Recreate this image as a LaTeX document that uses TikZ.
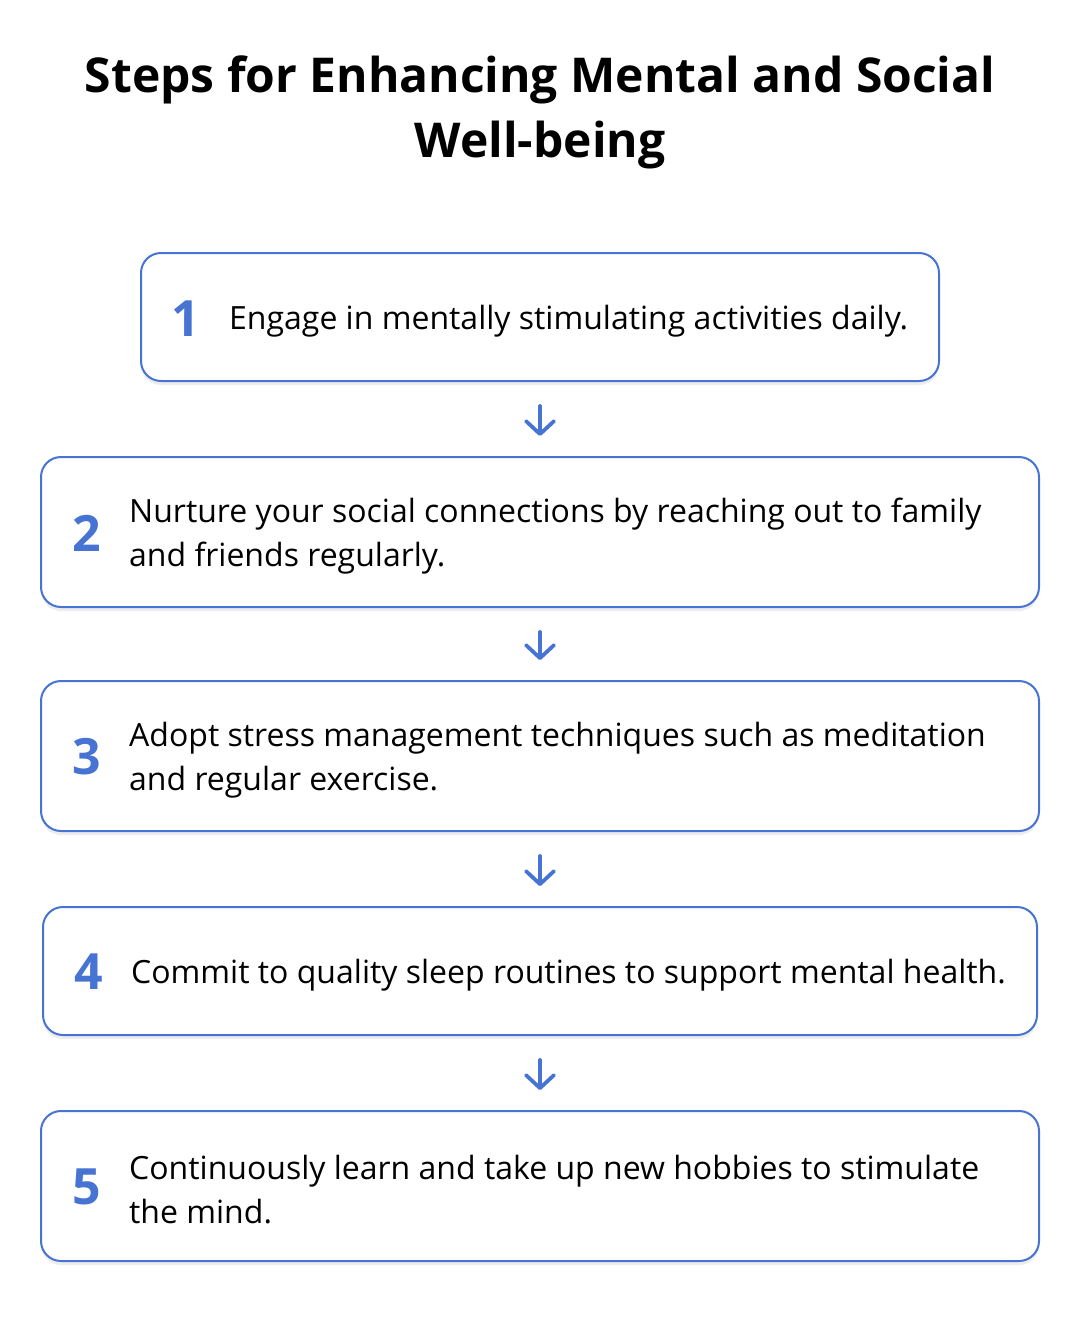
\documentclass[tikz,border=0pt]{standalone}
\usepackage{fontspec}
\setmainfont{Open Sans}
\usetikzlibrary{arrows.meta,shadows}
\definecolor{stepblue}{HTML}{4773D3}
\begin{document}
\begin{tikzpicture}[x=1pt,y=-1pt,
  stepbox/.style={draw=stepblue, line width=2pt, rounded corners=20pt, fill=white, inner sep=0pt,
    drop shadow={opacity=0.07, shadow xshift=0pt, shadow yshift=-4pt, fill=black}},
  num/.style={text=stepblue, font=\fontsize{50}{50}\selectfont\bfseries, inner sep=0pt},
  txt/.style={font=\fontsize{32}{44}\selectfont, align=left, anchor=west, inner sep=0pt},
  arr/.style={draw=stepblue, line width=3.8pt, line cap=round,
    -{Straight Barb[length=13pt,width=28pt,line cap=round,line join=round]},
    shorten <=24pt, shorten >=20pt},
  titlestyle/.style={font=\fontsize{48}{65}\selectfont\bfseries, align=center, inner sep=0pt}
]
\useasboundingbox (0,0) rectangle (1080,1322);

\node[titlestyle] (title) at (540,112) {Steps for Enhancing Mental and Social\\Well-being};

\node[stepbox, minimum width=798pt, minimum height=128pt] (b1) at (540,317) {};
\node[stepbox, minimum width=998pt, minimum height=150pt] (b2) at (540,532) {};
\node[stepbox, minimum width=998pt, minimum height=150pt] (b3) at (540,756) {};
\node[stepbox, minimum width=994pt, minimum height=128pt] (b4) at (540,971) {};
\node[stepbox, minimum width=998pt, minimum height=150pt] (b5) at (540,1186) {};

\node[num] (n1) at ([xshift=46pt,yshift=-2pt]b1.west) {1};
\node[num] (n2) at ([xshift=47pt,yshift=-1pt]b2.west) {2};
\node[num] (n3) at ([xshift=47pt,yshift=-1pt]b3.west) {3};
\node[num] (n4) at ([xshift=47pt,yshift=-1pt]b4.west) {4};
\node[num] (n5) at ([xshift=47pt,yshift=-1pt]b5.west) {5};

\node[txt] (t1) at ([xshift=89pt,yshift=-4pt]b1.west) {Engage in mentally stimulating activities daily.};
\node[txt] (t2) at ([xshift=89pt,yshift=-4pt]b2.west) {Nurture your social connections by reaching out to family\\and friends regularly.};
\node[txt] (t3) at ([xshift=89pt,yshift=-4pt]b3.west) {Adopt stress management techniques such as meditation\\and regular exercise.};
\node[txt] (t4) at ([xshift=89pt,yshift=-4pt]b4.west) {Commit to quality sleep routines to support mental health.};
\node[txt] (t5) at ([xshift=89pt,yshift=-4pt]b5.west) {Continuously learn and take up new hobbies to stimulate\\the mind.};

\draw[arr] (b1.south) -- (b2.north);
\draw[arr] (b2.south) -- (b3.north);
\draw[arr] (b3.south) -- (b4.north);
\draw[arr] (b4.south) -- (b5.north);
\end{tikzpicture}
\end{document}
